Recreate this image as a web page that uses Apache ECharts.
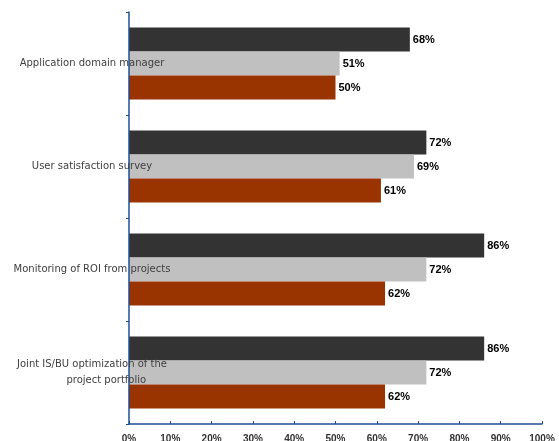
<!DOCTYPE html>
<html><head><meta charset="utf-8">
<script src="https://cdn.jsdelivr.net/npm/echarts@6/dist/echarts.min.js"></script>
<style>html,body{margin:0;padding:0;background:#fff}#c{width:559px;height:441px}</style>
</head><body><div id="c"></div>
<script>
var categories = ["Application domain manager", "User satisfaction survey", "Monitoring of ROI from projects", "Joint IS/BU optimization of the\n         project portfolio"];
var darkValues = [68, 72, 86, 86];
var grayValues = [51, 69, 72, 72];
var orangeValues = [50, 61, 62, 62];
var xTicks = [0, 10, 20, 30, 40, 50, 60, 70, 80, 90, 100];

var chart = echarts.init(document.getElementById('c'));
function mk(name, data, color) {
  return {
    name: name, type: 'bar', data: data, barWidth: 24, barGap: '0%',
    itemStyle: {color: color},
    label: {show: true, position: 'right', distance: 3, formatter: '{c}%',
      fontFamily: 'Liberation Sans, Arial', fontWeight: 'bold', fontSize: 11, color: '#000'}
  };
}
chart.setOption({
  animation: false,
  grid: {left: 129, right: 17, top: 12, bottom: 17, containLabel: false, outerBoundsMode: 'none'},
  xAxis: {type: 'value', min: 0, max: 100, interval: 10,
    axisLine: {show: true, lineStyle: {color: '#1f4e96', width: 1.5}},
    axisTick: {show: true, inside: true, length: 3, lineStyle: {color: '#1f4e96'}},
    splitLine: {show: false},
    axisLabel: {formatter: '{value}%', margin: 10, fontFamily: 'Liberation Sans, Arial', fontWeight: 'bold', fontSize: 10, color: '#333'}
  },
  yAxis: {type: 'category', data: categories, inverse: true, z: 5,
    axisLine: {show: true, lineStyle: {color: '#1f4e96', width: 1.5}},
    axisTick: {show: true, length: 3, lineStyle: {color: '#1f4e96'}},
    axisLabel: {align: 'center', margin: 37, fontFamily: 'DejaVu Sans', fontSize: 10, color: '#404040', lineHeight: 16}
  },
  series: [mk('a', darkValues, '#333333'), mk('b', grayValues, '#c0c0c0'), mk('c', orangeValues, '#993300')]
});
</script></body></html>
